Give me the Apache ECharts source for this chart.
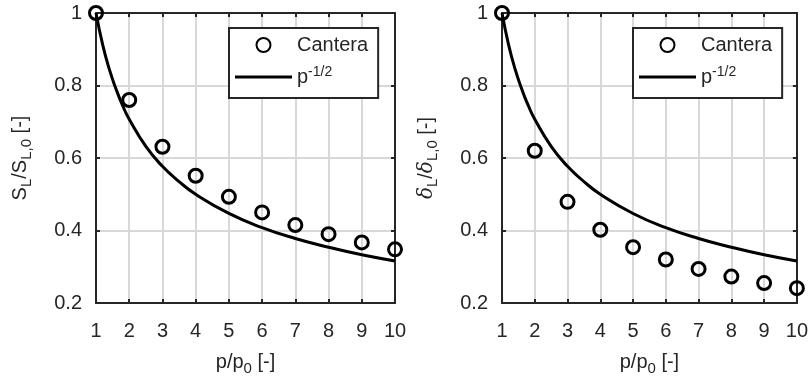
<!DOCTYPE html>
<html>
<head>
<meta charset="utf-8">
<script src="https://cdn.jsdelivr.net/npm/echarts@6/dist/echarts.min.js"></script>
<style>
  html, body { margin: 0; padding: 0; background: #fff; }
  #chart { width: 811px; height: 387px; }
</style>
</head>
<body>
<div id="chart"></div>
<script>
// pressure ratio p/p0
var pRatio = [1, 2, 3, 4, 5, 6, 7, 8, 9, 10];
// Cantera results, flame speed ratio (left) and thickness ratio (right)
var speedRatio = [1.0, 0.76, 0.631, 0.551, 0.493, 0.45, 0.415, 0.39, 0.367, 0.348];
var thickRatio = [1.0, 0.62, 0.479, 0.402, 0.354, 0.32, 0.294, 0.273, 0.255, 0.241];
// reference curve p^-1/2
var curveP = [1, 1.2, 1.4, 1.6, 1.8, 2, 2.5, 3, 3.5, 4, 5, 6, 7, 8, 9, 10];
var curveV = [1, 0.913, 0.845, 0.791, 0.745, 0.707, 0.632, 0.577, 0.535, 0.5, 0.447, 0.408, 0.378, 0.354, 0.333, 0.316];
var xTicks = [1, 2, 3, 4, 5, 6, 7, 8, 9, 10];
var yTicks = [0.2, 0.4, 0.6, 0.8, 1];

var ink = '#262626';
var gridCol = '#d8d8d8';
var font = 'Liberation Sans';

function pairs(xs, ys) {
  var out = [];
  for (var i = 0; i < xs.length; i++) out.push([xs[i], ys[i]]);
  return out;
}

var subRich = {
  sub: { fontSize: 15, fontFamily: font, color: ink, padding: [12, 0, 0, 0] },
  sup: { fontSize: 14, fontFamily: font, color: ink, padding: [0, 0, 10, 0] },
  d: { fontSize: 20, fontFamily: 'DejaVu Serif', fontStyle: 'italic', color: ink }
};

function mainX(i) {
  return {
    gridIndex: i, type: 'value', min: 1, max: 10, interval: 1,
    name: 'p/p{sub|0} [-]', nameLocation: 'middle', nameGap: 46,
    nameTextStyle: { fontSize: 20, fontFamily: font, color: ink, rich: subRich },
    axisLine: { lineStyle: { color: ink, width: 2 } },
    axisTick: { inside: true, length: 4, lineStyle: { color: ink, width: 2 } },
    axisLabel: { fontSize: 20, fontFamily: font, color: ink, margin: 18,
      formatter: function (v) { return xTicks.indexOf(v) >= 0 ? String(v) : ''; } },
    splitLine: { show: true, lineStyle: { color: gridCol, width: 2 } }
  };
}
function topX(i) {
  return {
    gridIndex: i, type: 'value', min: 1, max: 10, interval: 1, position: 'top',
    axisLine: { lineStyle: { color: ink, width: 2 } },
    axisTick: { inside: true, length: 4, lineStyle: { color: ink, width: 2 } },
    axisLabel: { show: false }, splitLine: { show: false }
  };
}
function mainY(i, name) {
  return {
    gridIndex: i, type: 'value', min: 0.2, max: 1, interval: 0.2,
    name: name, nameLocation: 'middle', nameRotate: 90, nameGap: 62,
    nameTextStyle: { fontSize: 20, fontFamily: font, color: ink, rich: subRich },
    axisLine: { lineStyle: { color: ink, width: 2 } },
    axisTick: { inside: true, length: 4, lineStyle: { color: ink, width: 2 } },
    axisLabel: { fontSize: 20, fontFamily: font, color: ink, margin: 14,
      formatter: function (v) {
        var r = Math.round(v * 10) / 10;
        return r === 1 ? '1' : r.toFixed(1);
      } },
    splitLine: { show: true, lineStyle: { color: gridCol, width: 2 } }
  };
}
function rightY(i) {
  return {
    gridIndex: i, type: 'value', min: 0.2, max: 1, interval: 0.2, position: 'right',
    axisLine: { lineStyle: { color: ink, width: 2 } },
    axisTick: { inside: true, length: 4, lineStyle: { color: ink, width: 2 } },
    axisLabel: { show: false }, splitLine: { show: false }
  };
}

function legendAt(left) {
  return {
    left: left, top: 28, orient: 'vertical',
    data: [
      { name: 'Cantera' },
      { name: 'p^-1/2', icon: 'path://M0,0L57,0L57,3L0,3Z' }
    ],
    backgroundColor: '#fff', borderColor: ink, borderWidth: 2,
    padding: [6, 10, 10, 6], itemWidth: 57, itemHeight: 14, itemGap: 9,
    textStyle: { fontSize: 20, fontFamily: font, color: ink, lineHeight: 22, rich: subRich },
    formatter: function (n) { return n === 'Cantera' ? 'Cantera' : 'p{sup|-1/2}'; },
    selectedMode: false
  };
}

function scatterSeries(i, vals) {
  return {
    name: 'Cantera', type: 'scatter', xAxisIndex: i * 2, yAxisIndex: i * 2,
    data: pairs(pRatio, vals), symbol: 'circle', symbolSize: 13, clip: false,
    itemStyle: { color: 'rgba(255,255,255,0)', borderColor: '#000', borderWidth: 3, opacity: 1 },
    z: 3
  };
}
function curveSeries(i) {
  return {
    name: 'p^-1/2', type: 'line', xAxisIndex: i * 2, yAxisIndex: i * 2,
    data: pairs(curveP, curveV), smooth: true, symbol: 'none',
    lineStyle: { color: '#000', width: 3 }, itemStyle: { color: '#000' }, z: 2
  };
}

var chart = echarts.init(document.getElementById('chart'));
chart.setOption({
  animation: false,
  grid: [
    { left: 96, top: 13, width: 299, height: 290 },
    { left: 502, top: 13, width: 298, height: 290 }
  ],
  xAxis: [mainX(0), topX(0), mainX(1), topX(1)],
  yAxis: [
    mainY(0, 'S{sub|L}/S{sub|L,0} [-]'), rightY(0),
    mainY(1, '{d|δ}{sub|L}/{d|δ}{sub|L,0} [-]'), rightY(1)
  ],
  legend: [legendAt(229), legendAt(633)],
  series: [
    scatterSeries(0, speedRatio), curveSeries(0),
    scatterSeries(1, thickRatio), curveSeries(1)
  ]
});
</script>
</body>
</html>
